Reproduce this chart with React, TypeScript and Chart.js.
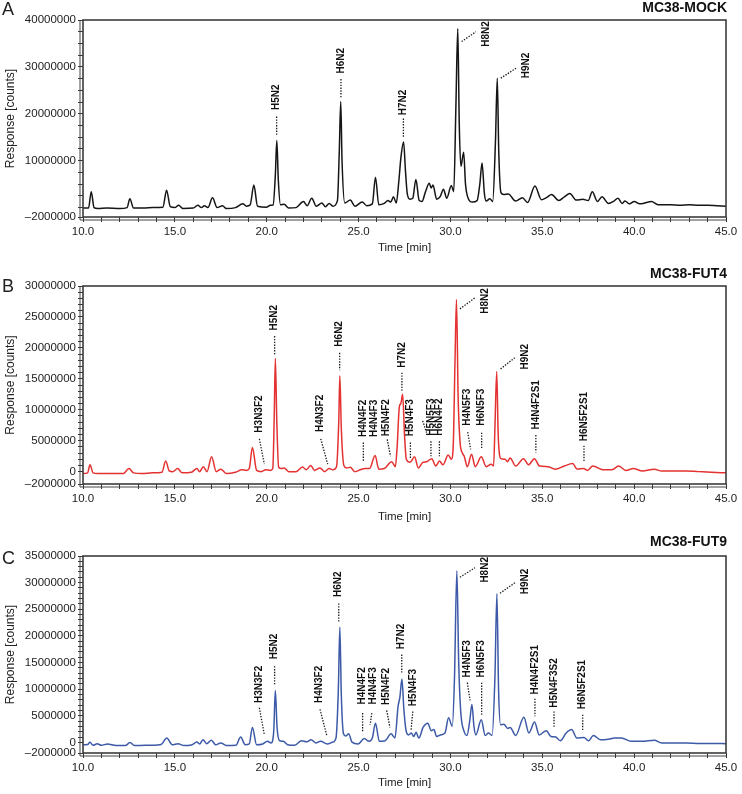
import React, { useEffect, useRef } from "react";
import { Chart, registerables } from "chart.js";

Chart.register(...registerables);

const FONT = "'Liberation Sans', Arial, Helvetica, sans-serif";

// ---------- axes ----------
const timeMinorTicks = [10, 11, 12, 13, 14, 15, 16, 17, 18, 19, 20, 21, 22, 23, 24, 25, 26, 27, 28, 29, 30, 31, 32, 33, 34, 35, 36, 37, 38, 39, 40, 41, 42, 43, 44, 45];
const timeTickLabels = [10, 15, 20, 25, 30, 35, 40, 45];

const mockYLabels = [-2, 10, 20, 30, 40]; // millions
const fut4YLabels = [-2, 0, 5, 10, 15, 20, 25, 30];
const fut9YLabels = [-2, 0, 5, 10, 15, 20, 25, 30, 35];

// ---------- traces: [time (min), response (millions of counts)] ----------
const mockTrace: number[][] = [
  [10.0, -0.1], [10.3, -0.1], [10.45, 3.4], [10.6, 0.0], [10.8, -0.2], [11.3, -0.1], [12.0, -0.2], [12.4, 0.0], [12.55, 1.9], [12.75, -0.1],
  [13.3, -0.1], [13.8, 0.0], [14.35, 0.1], [14.55, 3.7], [14.75, 0.2], [15.0, 0.0], [15.2, 0.5], [15.45, -0.2], [16.0, -0.1], [16.25, 0.5],
  [16.45, 0.0], [16.6, 0.4], [16.8, 0.0], [17.05, 2.1], [17.3, 0.0], [17.6, 0.4], [17.8, -0.2], [18.3, 0.0], [18.7, 0.8], [18.9, 0.3],
  [19.1, 0.6], [19.3, 4.8], [19.5, 0.3], [20.0, 0.1], [20.2, 0.5], [20.35, 0.6], [20.47, 7.0], [20.55, 14.3], [20.63, 6.0], [20.75, 0.6],
  [20.95, 0.7], [21.2, -0.1], [21.6, 0.0], [22.0, 1.3], [22.2, 0.4], [22.45, 2.0], [22.7, 0.3], [23.0, 1.0], [23.2, 0.2], [23.4, 0.9],
  [23.6, 0.3], [23.85, 1.5], [23.95, 12.0], [24.03, 22.6], [24.1, 10.0], [24.25, 1.0], [24.55, 1.6], [24.8, 0.3], [25.2, 1.2], [25.45, 0.4],
  [25.75, 0.8], [25.92, 6.5], [26.1, 0.6], [26.4, 0.9], [26.6, 1.5], [26.75, 1.2], [26.9, 2.3], [27.05, 1.0], [27.2, 6.0], [27.3, 10.5],
  [27.45, 14.0], [27.55, 8.0], [27.65, 3.0], [27.8, 1.8], [27.95, 2.0], [28.12, 6.0], [28.3, 1.5], [28.45, 1.3], [28.65, 3.5], [28.85, 5.2],
  [28.95, 4.2], [29.05, 4.8], [29.25, 1.8], [29.45, 2.4], [29.62, 3.9], [29.8, 2.0], [30.05, 4.7], [30.18, 3.4], [30.3, 22.0], [30.4, 38.2],
  [30.48, 18.0], [30.57, 8.8], [30.72, 11.8], [30.82, 5.0], [30.92, 2.5], [31.2, 1.2], [31.45, 1.5], [31.6, 5.0], [31.72, 9.5], [31.85, 3.0],
  [31.95, 1.4], [32.15, 1.9], [32.3, 1.3], [32.45, 14.0], [32.55, 27.6], [32.63, 12.0], [32.75, 3.2], [32.9, 2.8], [33.15, 2.9], [33.55, 1.4],
  [33.92, 2.1], [34.2, 1.1], [34.6, 4.6], [34.95, 1.7], [35.25, 2.2], [35.5, 2.8], [35.9, 1.5], [36.2, 2.3], [36.5, 3.0], [36.85, 1.6],
  [37.2, 1.8], [37.5, 1.5], [37.72, 3.4], [38.0, 1.3], [38.25, 2.3], [38.6, 0.9], [38.9, 1.4], [39.12, 2.0], [39.35, 0.9], [39.5, 1.4],
  [39.75, 0.8], [40.0, 1.3], [40.3, 0.8], [40.5, 0.9], [40.95, 1.3], [41.3, 0.6], [42.0, 0.6], [42.5, 0.5], [43.0, 0.6], [43.5, 0.5],
  [44.0, 0.5], [44.5, 0.4], [45.0, 0.3],
];

const fut4Trace: number[][] = [
  [10.0, -0.3], [10.25, -0.2], [10.38, 1.1], [10.55, -0.2], [10.8, -0.3], [11.5, -0.3], [12.2, -0.3], [12.5, 0.5], [12.75, -0.2], [13.2, -0.3],
  [13.8, -0.2], [14.3, -0.1], [14.5, 1.7], [14.7, 0.1], [14.9, 0.0], [15.15, 0.5], [15.4, -0.2], [15.9, -0.1], [16.2, 0.5], [16.35, 0.0],
  [16.55, 0.8], [16.75, 0.0], [17.0, 2.4], [17.25, 0.0], [17.5, 0.4], [17.8, -0.3], [18.3, -0.1], [18.65, 0.3], [18.9, 0.2], [19.05, 0.5],
  [19.22, 3.9], [19.45, 0.2], [19.7, 0.0], [19.95, 0.3], [20.2, 0.2], [20.33, 0.5], [20.41, 9.0], [20.47, 18.3], [20.55, 8.0], [20.65, 0.7],
  [20.8, 0.5], [20.95, 0.6], [21.2, 0.0], [21.6, 0.0], [21.95, 0.75], [22.15, 0.3], [22.4, 1.0], [22.6, 0.2], [22.9, 0.6], [23.15, 0.0],
  [23.4, 0.5], [23.6, 0.3], [23.8, 0.8], [23.92, 8.0], [23.98, 15.5], [24.06, 7.0], [24.2, 1.0], [24.35, 0.6], [24.55, 0.7], [24.8, 0.0],
  [25.1, 0.3], [25.35, 0.5], [25.6, 0.5], [25.9, 2.6], [26.1, 0.4], [26.4, 0.5], [26.8, 1.6], [27.0, 0.8], [27.1, 4.0], [27.22, 10.5],
  [27.3, 11.0], [27.4, 12.5], [27.5, 6.0], [27.6, 2.0], [27.8, 1.5], [28.05, 2.4], [28.25, 0.6], [28.5, 1.5], [28.7, 1.6], [28.98, 2.1],
  [29.2, 0.9], [29.4, 1.7], [29.6, 1.1], [29.88, 2.7], [30.05, 2.0], [30.15, 4.0], [30.25, 18.0], [30.33, 27.8], [30.42, 12.0], [30.52, 4.9],
  [30.65, 3.0], [30.75, 2.5], [30.92, 0.8], [31.15, 2.8], [31.35, 0.8], [31.68, 2.4], [31.95, 0.8], [32.22, 1.2], [32.35, 0.9], [32.43, 8.0],
  [32.52, 16.2], [32.6, 6.0], [32.75, 2.1], [32.98, 2.0], [33.1, 1.6], [33.25, 2.2], [33.55, 0.9], [33.98, 2.1], [34.25, 1.1], [34.57, 2.1],
  [34.85, 0.9], [35.3, 0.8], [35.7, 0.4], [36.2, 0.9], [36.65, 1.3], [36.9, 0.4], [37.25, 0.5], [37.45, 0.2], [37.75, 0.9], [38.3, 0.3],
  [38.8, 0.3], [39.15, 0.9], [39.55, 0.2], [39.95, 0.5], [40.45, 0.1], [41.1, 0.4], [41.5, 0.1], [42.2, 0.1], [42.8, 0.1], [43.5, 0.0],
  [44.2, -0.1], [45.0, -0.2],
];

const fut9Trace: number[][] = [
  [10.0, -0.45], [10.25, -0.4], [10.38, 0.0], [10.55, -0.55], [10.77, -0.25], [11.0, -0.55], [11.33, -0.3], [11.8, -0.6], [12.3, -0.6], [12.56, -0.05],
  [12.8, -0.6], [13.4, -0.55], [13.84, -0.55], [14.25, -0.4], [14.56, 0.8], [14.86, -0.45], [15.17, -0.25], [15.5, -0.6], [15.9, -0.5], [16.2, 0.05],
  [16.35, -0.3], [16.53, 0.5], [16.73, -0.25], [16.99, 0.4], [17.22, -0.45], [17.5, -0.1], [17.8, -0.6], [18.32, -0.55], [18.58, 1.0], [18.83, -0.45],
  [19.05, -0.3], [19.22, 2.8], [19.45, -0.45], [19.78, -0.3], [20.04, 0.2], [20.24, -0.1], [20.38, 2.0], [20.47, 9.75], [20.56, 3.0], [20.7, 0.3],
  [20.9, 0.2], [21.14, -0.45], [21.52, -0.55], [21.9, 0.3], [22.16, 0.1], [22.42, 0.5], [22.67, -0.1], [22.93, 0.2], [23.3, -0.3], [23.57, 0.0],
  [23.77, 0.8], [23.9, 10.0], [23.98, 21.6], [24.06, 9.0], [24.18, 1.6], [24.3, 1.2], [24.46, 1.6], [24.64, 0.05], [24.98, -0.3], [25.31, 0.7],
  [25.57, 0.2], [25.75, 0.8], [25.92, 3.6], [26.13, 0.2], [26.44, 0.3], [26.77, 1.6], [26.98, 0.8], [27.15, 6.75], [27.25, 8.5], [27.36, 11.9],
  [27.47, 6.0], [27.59, 2.1], [27.72, 1.4], [27.87, 1.75], [28.0, 1.1], [28.13, 1.9], [28.28, 0.8], [28.51, 2.8], [28.77, 3.6], [28.95, 2.2],
  [29.1, 2.4], [29.25, 1.1], [29.46, 1.4], [29.7, 1.75], [29.9, 4.6], [30.1, 3.0], [30.22, 12.0], [30.35, 32.25], [30.45, 15.0], [30.56, 5.8],
  [30.74, 2.1], [30.9, 1.3], [31.05, 4.0], [31.17, 7.1], [31.28, 3.0], [31.38, 1.4], [31.68, 4.25], [31.89, 1.3], [32.07, 1.75], [32.27, 1.3],
  [32.42, 12.0], [32.53, 27.9], [32.62, 10.0], [32.73, 3.3], [32.91, 3.4], [33.12, 2.6], [33.25, 2.8], [33.55, 1.3], [34.0, 4.7], [34.27, 1.75],
  [34.58, 3.8], [34.83, 1.4], [35.22, 2.2], [35.47, 1.1], [35.73, 1.0], [35.98, 0.3], [36.3, 1.75], [36.6, 2.4], [36.88, 0.8], [37.27, 0.9],
  [37.52, 0.3], [37.78, 1.3], [38.16, 0.5], [38.6, 0.6], [38.93, 0.8], [39.31, 0.8], [39.83, 0.2], [40.4, 0.2], [41.1, 0.4], [41.5, -0.1],
  [42.2, -0.1], [42.8, -0.1], [43.6, -0.2], [44.3, -0.2], [45.0, -0.25],
];

// ---------- glycan annotations (data space: time, millions) ----------
type Note = { text: string; x: number; y: number; line?: number[][] };

const mockNotes: Note[] = [
  { text: "H5N2", x: 20.54, y: 20.8, line: [[20.54, 19.4], [20.54, 15.5]] },
  { text: "H6N2", x: 24.04, y: 28.6, line: [[24.04, 27.4], [24.04, 23.3]] },
  { text: "H7N2", x: 27.44, y: 19.7, line: [[27.44, 19.0], [27.44, 15.1]] },
  { text: "H8N2", x: 31.97, y: 34.3, line: [[30.61, 35.4], [31.39, 37.5]] },
  { text: "H9N2", x: 34.12, y: 27.6, line: [[32.74, 27.6], [33.57, 29.7]] },
];

const fut4Notes: Note[] = [
  { text: "H3N3F2", x: 19.6, y: 6.3, line: [[19.6, 5.3], [19.87, 1.2]] },
  { text: "H5N2", x: 20.43, y: 22.8, line: [[20.43, 21.9], [20.43, 18.9]] },
  { text: "H4N3F2", x: 22.92, y: 6.4, line: [[22.94, 5.3], [23.32, 1.2]] },
  { text: "H6N2", x: 23.97, y: 20.2, line: [[23.97, 19.2], [23.97, 16.4]] },
  { text: "H4N4F2", x: 25.26, y: 5.6, line: [[25.26, 4.7], [25.26, 1.7]] },
  { text: "H4N4F3", x: 25.84, y: 5.6 },
  { text: "H5N4F2", x: 26.53, y: 5.7, line: [[26.56, 5.2], [26.74, 2.5]] },
  { text: "H7N2", x: 27.36, y: 16.8, line: [[27.36, 16.0], [27.36, 13.0]] },
  { text: "H5N4F3", x: 27.82, y: 5.7, line: [[27.82, 4.7], [27.82, 2.0]] },
  { text: "H5N5F3", x: 28.94, y: 5.8, line: [[28.94, 4.9], [28.94, 2.5]] },
  { text: "H6N4F2", x: 29.4, y: 5.8, line: [[29.4, 4.9], [29.4, 2.5]] },
  { text: "", x: 28.5, y: 8.2, line: [[28.49, 8.2], [28.7, 6.3]] },
  { text: "H8N2", x: 31.88, y: 25.5, line: [[30.52, 26.3], [31.34, 28.1]] },
  { text: "H4N5F3", x: 30.94, y: 7.4, line: [[30.94, 6.4], [31.1, 3.6]] },
  { text: "H6N5F3", x: 31.7, y: 7.4, line: [[31.7, 6.3], [31.7, 3.6]] },
  { text: "H9N2", x: 34.07, y: 16.5, line: [[32.73, 16.6], [33.5, 18.4]] },
  { text: "H4N4F2S1", x: 34.65, y: 6.8, line: [[34.65, 5.9], [34.65, 3.1]] },
  { text: "H6N5F2S1", x: 37.27, y: 4.9, line: [[37.27, 4.2], [37.27, 1.5]] },
];

const fut9Notes: Note[] = [
  { text: "H3N3F2", x: 19.6, y: 7.4, line: [[19.6, 6.5], [19.87, 1.45]] },
  { text: "H5N2", x: 20.43, y: 15.6, line: [[20.43, 14.3], [20.43, 10.9]] },
  { text: "H4N3F2", x: 22.87, y: 7.4, line: [[22.9, 6.2], [23.27, 1.3]] },
  { text: "H6N2", x: 23.92, y: 27.3, line: [[23.92, 26.1], [23.92, 22.7]] },
  { text: "H4N4F2", x: 25.22, y: 7.1, line: [[25.22, 5.5], [25.22, 2.1]] },
  { text: "H4N4F3", x: 25.8, y: 7.1, line: [[25.72, 5.5], [25.63, 3.3]] },
  { text: "H5N4F2", x: 26.5, y: 7.0, line: [[26.53, 6.0], [26.71, 2.8]] },
  { text: "H7N2", x: 27.35, y: 17.5, line: [[27.35, 16.5], [27.35, 13.1]] },
  { text: "H5N4F3", x: 27.98, y: 6.8, line: [[27.95, 5.8], [27.86, 2.4]] },
  { text: "H4N5F3", x: 30.92, y: 12.2, line: [[30.92, 11.2], [31.07, 7.9]] },
  { text: "H6N5F3", x: 31.7, y: 12.2, line: [[31.7, 11.2], [31.7, 5.2]] },
  { text: "H8N2", x: 31.88, y: 30.0, line: [[30.52, 31.0], [31.34, 32.8]] },
  { text: "H9N2", x: 34.06, y: 27.8, line: [[32.7, 28.0], [33.52, 30.0]] },
  { text: "H4N4F2S1", x: 34.6, y: 9.0, line: [[34.6, 8.2], [34.6, 4.9]] },
  { text: "H5N4F3S2", x: 35.64, y: 6.5, line: [[35.64, 5.8], [35.64, 2.7]] },
  { text: "H6N5F2S1", x: 37.2, y: 6.2, line: [[37.2, 5.2], [37.2, 2.1]] },
];

type Panel = {
  letter: string;
  title: string;
  color: string;
  trace: number[][];
  notes: Note[];
  yMax: number;
  yLabels: number[];
  yMinor: number;
  top: number;
  height: number;
  padTop: number;
  xHeight: number;
  titlePad: number;
  headerY: number;
  letterY: number;
};

const panels: Panel[] = [
  { letter: "A", title: "MC38-MOCK", color: "#151515", trace: mockTrace, notes: mockNotes, yMax: 40, yLabels: mockYLabels, yMinor: 2.5,
    top: 0, height: 262, padTop: 20, xHeight: 45, titlePad: 7, headerY: 8, letterY: 10 },
  { letter: "B", title: "MC38-FUT4", color: "#e43232", trace: fut4Trace, notes: fut4Notes, yMax: 30, yLabels: fut4YLabels, yMinor: 1,
    top: 262, height: 265, padTop: 24, xHeight: 43, titlePad: 3, headerY: 12, letterY: 25 },
  { letter: "C", title: "MC38-FUT9", color: "#3d5aa8", trace: fut9Trace, notes: fut9Notes, yMax: 35, yLabels: fut9YLabels, yMinor: 1,
    top: 527, height: 267, padTop: 29, xHeight: 41, titlePad: 4, headerY: 15, letterY: 32 },
];

function fmtY(v: number): string {
  const n = Math.round(v * 1e6);
  return n < 0 ? "\u2013" + String(-n) : String(n);
}

function decoPlugin(p: Panel) {
  return {
    id: "deco" + p.letter,
    afterDatasetsDraw(chart: any) {
      const { ctx, chartArea: a, scales } = chart;
      const xs = scales.x;
      const ys = scales.y;
      ctx.save();
      // frame
      ctx.strokeStyle = "#3c3c3c";
      ctx.lineWidth = 1.6;
      ctx.setLineDash([]);
      ctx.strokeRect(a.left, a.top, a.right - a.left, a.bottom - a.top);
      ctx.lineWidth = 1;
      ctx.strokeStyle = "#444";
      ctx.beginPath();
      ctx.moveTo(a.left - 3, a.top);
      ctx.lineTo(a.left - 3, a.bottom + 3);
      ctx.lineTo(a.right, a.bottom + 3);
      ctx.stroke();

      // annotations
      for (const n of p.notes) {
        if (n.line) {
          ctx.save();
          ctx.strokeStyle = "#1a1a1a";
          ctx.lineWidth = 1.3;
          ctx.setLineDash([1.4, 1.4]);
          ctx.beginPath();
          ctx.moveTo(xs.getPixelForValue(n.line[0][0]), ys.getPixelForValue(n.line[0][1] * 1e6));
          ctx.lineTo(xs.getPixelForValue(n.line[1][0]), ys.getPixelForValue(n.line[1][1] * 1e6));
          ctx.stroke();
          ctx.restore();
        }
        if (n.text) {
          const px = xs.getPixelForValue(n.x);
          const py = ys.getPixelForValue(n.y * 1e6);
          ctx.save();
          ctx.translate(px, py);
          ctx.rotate(-Math.PI / 2);
          ctx.fillStyle = "#111";
          ctx.font = `bold 10px ${FONT}`;
          ctx.textAlign = "left";
          ctx.textBaseline = "middle";
          ctx.fillText(n.text, 0, 0);
          ctx.restore();
        }
      }

      // header + panel letter
      ctx.fillStyle = "#111";
      ctx.font = `bold 14px ${FONT}`;
      ctx.textAlign = "right";
      ctx.textBaseline = "middle";
      ctx.fillText(p.title, 727, p.headerY);
      ctx.font = `18px ${FONT}`;
      ctx.textAlign = "left";
      ctx.fillStyle = "#222";
      ctx.fillText(p.letter, 2, p.letterY);
      ctx.restore();
    },
  };
}

function PanelChart({ p }: { p: Panel }) {
  const ref = useRef<HTMLCanvasElement | null>(null);
  useEffect(() => {
    if (!ref.current) return;
    const yTicks: number[] = [-2];
    for (let v = 0; v <= p.yMax + 1e-9; v += p.yMinor) yTicks.push(Math.round(v * 100) / 100);
    const chart = new Chart(ref.current, {
      type: "line",
      data: {
        datasets: [
          {
            data: p.trace.map(([t, v]) => ({ x: t, y: v * 1e6 })),
            borderColor: p.color,
            borderWidth: 1.5,
            pointRadius: 0,
            fill: false,
            cubicInterpolationMode: "monotone",
          } as any,
        ],
      },
      options: {
        animation: false,
        responsive: false,
        devicePixelRatio: 1,
        layout: { padding: { top: p.padTop, right: 16, left: 0, bottom: 0 } },
        plugins: { legend: { display: false }, tooltip: { enabled: false } },
        scales: {
          x: {
            type: "linear",
            min: 10,
            max: 45,
            afterBuildTicks: (s: any) => {
              s.ticks = timeMinorTicks.map((v) => ({ value: v }));
            },
            afterFit: (s: any) => {
              s.height = p.xHeight;
            },
            grid: { drawOnChartArea: false, drawTicks: true, tickLength: 5, tickColor: "#333", tickWidth: 1 },
            border: { display: false },
            ticks: {
              autoSkip: false,
              maxRotation: 0,
              padding: 3,
              color: "#222",
              font: { family: FONT, size: 11.5 },
              callback: (v: any) => (timeTickLabels.includes(Number(v)) ? Number(v).toFixed(1) : ""),
            },
            title: {
              display: true,
              text: "Time [min]",
              color: "#222",
              font: { family: FONT, size: 11.5 },
              padding: { top: 0, bottom: p.titlePad },
            },
          },
          y: {
            type: "linear",
            min: -2e6,
            max: p.yMax * 1e6,
            afterBuildTicks: (s: any) => {
              s.ticks = yTicks.map((v) => ({ value: v * 1e6 }));
            },
            afterFit: (s: any) => {
              s.width = 83;
            },
            grid: { drawOnChartArea: false, drawTicks: true, tickLength: 5, tickColor: "#333", tickWidth: 1 },
            border: { display: false },
            ticks: {
              autoSkip: false,
              padding: 2,
              color: "#222",
              font: { family: FONT, size: 11.5 },
              callback: (v: any) => {
                const m = Math.round(Number(v) / 1e4) / 100;
                return p.yLabels.includes(m) ? fmtY(m) : "";
              },
            },
            title: {
              display: true,
              text: "Response [counts]",
              color: "#222",
              font: { family: FONT, size: 12 },
              padding: { top: 3, bottom: 0 },
            },
          },
        },
      },
      plugins: [decoPlugin(p)],
    });
    return () => chart.destroy();
  }, [p]);
  return (
    <canvas
      ref={ref}
      width={742}
      height={p.height}
      style={{ position: "absolute", left: 0, top: p.top, width: 742, height: p.height }}
    />
  );
}

export default function App() {
  return (
    <div style={{ position: "absolute", left: 0, top: 0, width: 742, height: 794, background: "#fff" }}>
      {panels.map((p) => (
        <PanelChart key={p.letter} p={p} />
      ))}
    </div>
  );
}
